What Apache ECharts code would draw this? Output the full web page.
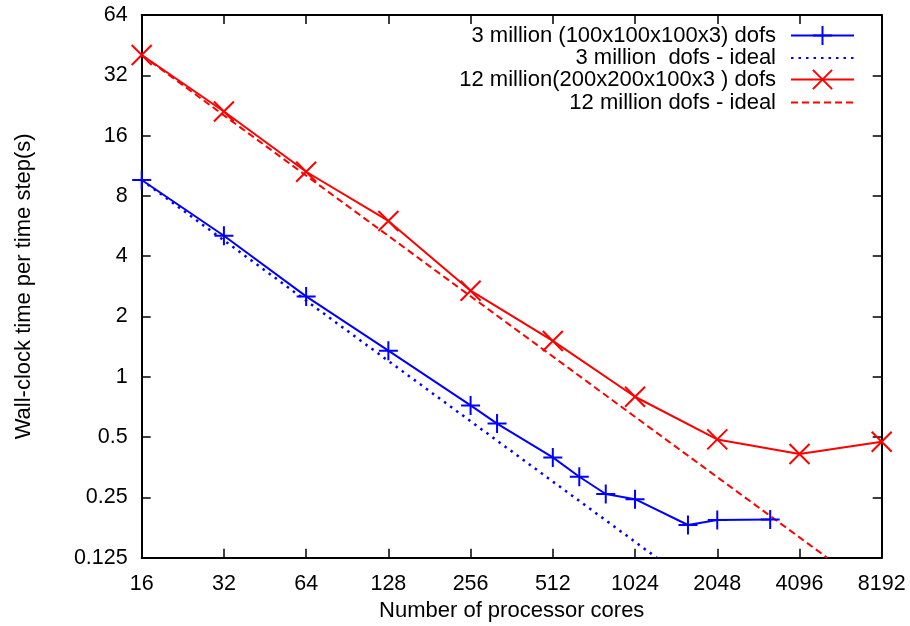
<!DOCTYPE html>
<html>
<head>
<meta charset="utf-8">
<script src="https://cdn.jsdelivr.net/npm/echarts@6/dist/echarts.min.js"></script>
<style>
html,body{margin:0;padding:0;background:#fff;}
#chart{width:910px;height:626px;}
</style>
</head>
<body>
<div id="chart"></div>
<script>
// Data
var blueCores  = [16, 32, 64, 128, 256, 320, 512, 640, 800, 1024, 1600, 2048, 3200];
var blueTimes  = [9.6, 5.06, 2.52, 1.35, 0.72, 0.584, 0.396, 0.317, 0.26, 0.245, 0.182, 0.193, 0.194];
var blueIdealCores = [16, 1229];
var blueIdealTimes = [9.6, 0.125];
var redCores   = [16, 32, 64, 128, 256, 512, 1024, 2048, 4096, 8192];
var redTimes   = [40.4, 21.1, 10.56, 6.0, 2.69, 1.51, 0.795, 0.487, 0.412, 0.474];
var redIdealCores = [16, 5171];
var redIdealTimes = [40.4, 0.125];
var seriesNames = [
  '3 million (100x100x100x3) dofs',
  '3 million  dofs - ideal',
  '12 million(200x200x100x3 ) dofs',
  '12 million dofs - ideal'
];

function pairs(xs, ys) { return xs.map(function (x, i) { return [x, ys[i]]; }); }
function fmt(v) { return String(+(+v).toPrecision(6)); }

var FONT = 'Liberation Sans, Arial, Helvetica, sans-serif';
var BLUE = '#0000ff', RED = '#ff0000';
var PLUS = 'path://M10,0 L10,20 M0,10 L20,10';
var CROSS = 'path://M0,0 L20,20 M20,0 L0,20';

var legendTops = [24.5, 47, 68.5, 91.5];
var legendHideSymbol = [false, true, false, true];
var legends = seriesNames.map(function (n, i) {
  var item = legendHideSymbol[i] ? { name: n, itemStyle: { opacity: 0 } } : { name: n };
  return {
    data: [item], orient: 'vertical', right: 55, top: legendTops[i], padding: 0,
    align: 'right', itemWidth: 63, itemHeight: 24, selectedMode: false,
    textStyle: { fontFamily: FONT, fontSize: 22, color: '#000', padding: [0, 10, 0, 0] }
  };
});

var tickLabel = { fontFamily: FONT, fontSize: 21.5, color: '#000' };
var axLine = { show: true, lineStyle: { color: '#000', width: 2 } };
var axTick = { show: true, inside: true, length: 9, lineStyle: { color: '#000', width: 1.5 } };

var option = {
  animation: false,
  backgroundColor: '#fff',
  grid: { left: 141.7, right: 28.3, top: 15, bottom: 68.3, containLabel: false, outerBoundsMode: 'none' },
  legend: legends,
  xAxis: [
    { type: 'log', logBase: 2, min: 16, max: 8192, interval: 1, position: 'bottom',
      name: 'Number of processor cores', nameLocation: 'middle', nameGap: 42,
      nameTextStyle: { fontFamily: FONT, fontSize: 22, color: '#000' },
      axisLine: axLine, axisTick: axTick, minorTick: { show: false },
      axisLabel: Object.assign({ margin: 15, formatter: fmt }, tickLabel),
      splitLine: { show: false } },
    { type: 'log', logBase: 2, min: 16, max: 8192, interval: 1, position: 'top',
      axisLine: axLine, axisTick: axTick, axisLabel: { show: false }, splitLine: { show: false } }
  ],
  yAxis: [
    { type: 'log', logBase: 2, min: 0.125, max: 64, interval: 1, position: 'left',
      name: 'Wall-clock time per time step(s)', nameLocation: 'middle', nameGap: 107,
      nameTextStyle: { fontFamily: FONT, fontSize: 22, color: '#000' },
      axisLine: axLine, axisTick: axTick, minorTick: { show: false },
      axisLabel: Object.assign({ margin: 14, formatter: fmt }, tickLabel),
      splitLine: { show: false } },
    { type: 'log', logBase: 2, min: 0.125, max: 64, interval: 1, position: 'right',
      axisLine: axLine, axisTick: axTick, axisLabel: { show: false }, splitLine: { show: false } }
  ],
  series: [
    { name: seriesNames[0], type: 'line', data: pairs(blueCores, blueTimes),
      symbol: PLUS, symbolSize: 19, clip: true,
      lineStyle: { color: BLUE, width: 2 },
      itemStyle: { color: BLUE, borderColor: BLUE, borderWidth: 2 }, z: 4 },
    { name: seriesNames[1], type: 'line', data: pairs(blueIdealCores, blueIdealTimes),
      symbol: 'none', clip: true,
      lineStyle: { color: BLUE, width: 2.5, type: [2.5, 5] },
      itemStyle: { color: BLUE }, z: 3 },
    { name: seriesNames[2], type: 'line', data: pairs(redCores, redTimes),
      symbol: CROSS, symbolSize: 20, clip: true,
      lineStyle: { color: RED, width: 2 },
      itemStyle: { color: RED, borderColor: RED, borderWidth: 2 }, z: 4 },
    { name: seriesNames[3], type: 'line', data: pairs(redIdealCores, redIdealTimes),
      symbol: 'none', clip: true,
      lineStyle: { color: RED, width: 2, type: [7, 4] },
      itemStyle: { color: RED }, z: 3 }
  ]
};

var chart = echarts.init(document.getElementById('chart'), null, { renderer: 'canvas' });
chart.setOption(option);
</script>
</body>
</html>
